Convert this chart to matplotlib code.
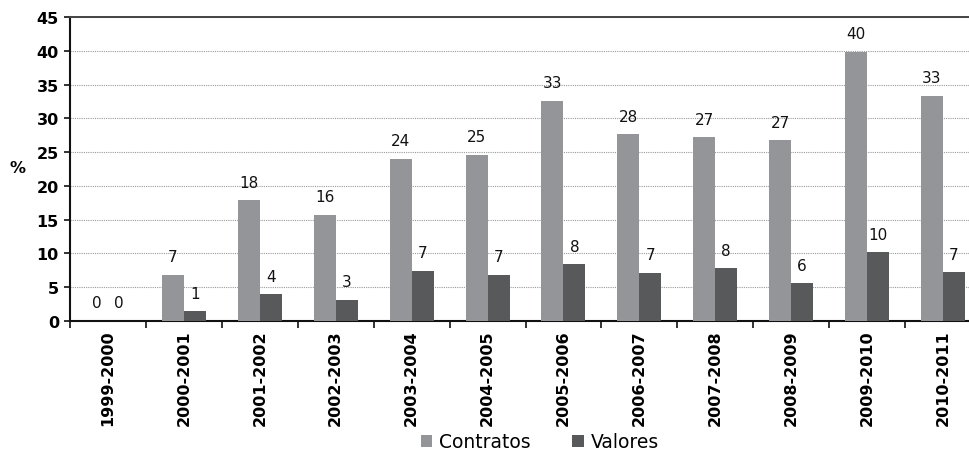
import matplotlib
matplotlib.use("Agg")
import matplotlib.pyplot as plt
import numpy as np

plt.rcParams['font.family'] = ['DejaVu Sans']

periods = ["1999-2000", "2000-2001", "2001-2002", "2002-2003", "2003-2004",
           "2004-2005", "2005-2006", "2006-2007", "2007-2008", "2008-2009",
           "2009-2010", "2010-2011"]
contratos = [0.0, 6.8, 17.9, 15.7, 24.0, 24.6, 32.6, 27.7, 27.2, 26.8, 39.9, 33.4]
valores = [0.0, 1.4, 3.9, 3.1, 7.4, 6.8, 8.4, 7.1, 7.8, 5.6, 10.2, 7.2]
y_ticks = [0, 5, 10, 15, 20, 25, 30, 35, 40, 45]

c_contratos = "#939598"
c_valores = "#58595b"

fig = plt.figure(figsize=(9.69, 4.52), dpi=100)
ax = fig.add_axes([70 / 969, 1 - 321.7 / 452, 911 / 969, (321.7 - 18.3) / 452])

x = np.arange(len(periods))
w = 0.29
b1 = ax.bar(x - w / 2, contratos, w, color=c_contratos, label="Contratos", zorder=3)
b2 = ax.bar(x + w / 2, valores, w, color=c_valores, label="Valores", zorder=3)

for bars, vals in ((b1, contratos), (b2, valores)):
    for rect, v in zip(bars, vals):
        ax.annotate(f"{v:.0f}", (rect.get_x() + rect.get_width() / 2, v),
                    xytext=(0, 7.5), textcoords="offset points",
                    ha="center", va="bottom", fontsize=11, color="#111111")

ax.set_xlim(-0.5, len(periods) - 0.5)
ax.set_ylim(0, 45)
ax.set_yticks(y_ticks)
ax.set_yticklabels([str(t) for t in y_ticks], fontsize=11.5, fontweight="bold")
ax.tick_params(axis="y", length=4, width=1.2, pad=4, color="#111111")

ax.set_xticks(x)
ax.set_xticklabels(periods, rotation=90, fontsize=11.5, fontweight="bold",
                   va="top", ha="center")
ax.set_xticks(np.arange(len(periods) + 1) - 0.5, minor=True)
ax.tick_params(axis="x", which="major", length=0, pad=6)
ax.tick_params(axis="x", which="minor", length=5, width=1.2, color="#111111")

ax.yaxis.grid(True, linestyle=(0, (1, 1)), color="#9a9a9a", linewidth=0.8, zorder=0)
ax.set_axisbelow(True)

for s in ("left", "bottom"):
    ax.spines[s].set_linewidth(1.5)
    ax.spines[s].set_color("#111111")
ax.spines["top"].set_color("#444444")
ax.spines["top"].set_linewidth(1.4)
ax.spines["right"].set_visible(False)

fig.text(18 / 969, 1 - 169 / 452, "%", fontsize=11.5, fontweight="bold",
         ha="center", va="center")

leg = fig.legend(handles=[b1, b2], loc="center", ncol=2,
                 bbox_to_anchor=(540 / 969, 1 - 443 / 452), frameon=False,
                 fontsize=13.5, handlelength=0.6, handleheight=0.6,
                 handletextpad=0.4, columnspacing=2.2)

fig.savefig("out.png", dpi=100)
